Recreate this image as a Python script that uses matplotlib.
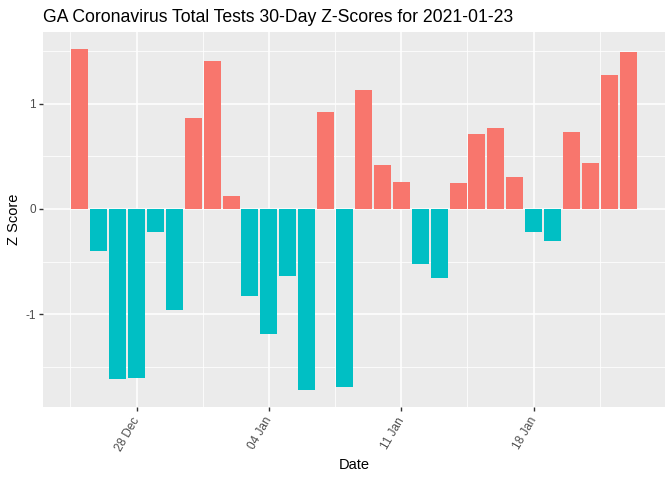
import matplotlib
matplotlib.use("Agg")
import matplotlib.pyplot as plt
import matplotlib.dates as mdates
import numpy as np
import pandas as pd

plt.rcParams["font.family"] = ["Liberation Sans", "DejaVu Sans"]

dates = pd.date_range("2020-12-25", "2021-01-23", freq="D")
zscores = [1.52, -0.40, -1.62, -1.61, -0.22, -0.96, 0.86, 1.41, 0.12, -0.83,
           -1.19, -0.64, -1.72, 0.92, -1.69, 1.13, 0.42, 0.26, -0.52, -0.66,
           0.25, 0.71, 0.77, 0.30, -0.22, -0.30, 0.73, 0.44, 1.27, 1.49]
major_ticks = pd.to_datetime(["2020-12-28", "2021-01-04", "2021-01-11", "2021-01-18"])
major_labels = ["28 Dec", "04 Jan", "11 Jan", "18 Jan"]
minor_ticks = pd.to_datetime(["2020-12-24 12:00", "2020-12-31 12:00", "2021-01-07 12:00",
                              "2021-01-14 12:00", "2021-01-21 12:00"])

pos_col = "#F8766D"
neg_col = "#00BFC4"

fig = plt.figure(figsize=(6.72, 4.8), dpi=100)
W, H = 672, 480
L, R, T, B = 43, 665, 32, 407
ax = fig.add_axes([L / W, 1 - B / H, (R - L) / W, (B - T) / H])
ax.set_facecolor("#EBEBEB")

x = mdates.date2num(dates)
z = np.array(zscores)
colors = [pos_col if v > 0 else neg_col for v in z]
ax.bar(x, z, width=0.9, color=colors, zorder=3)

xmin = x.min() - 0.45
xmax = x.max() + 0.45
xr = xmax - xmin
ax.set_xlim(xmin - 0.05 * xr, xmax + 0.05 * xr)
ymin, ymax = min(z.min(), 0), max(z.max(), 0)
yr = ymax - ymin
ax.set_ylim(ymin - 0.05 * yr, ymax + 0.05 * yr)

ax.set_xticks(mdates.date2num(major_ticks))
ax.set_xticklabels(major_labels)
ax.set_xticks(mdates.date2num(minor_ticks), minor=True)
ax.set_yticks([-1, 0, 1])
ax.set_yticklabels(["-1", "0", "1"])
ax.set_yticks([-1.5, -0.5, 0.5, 1.5], minor=True)

ax.grid(True, which="major", color="white", linewidth=1.1, zorder=0)
ax.grid(True, which="minor", color="white", linewidth=0.55, zorder=0)
ax.set_axisbelow(True)
for s in ax.spines.values():
    s.set_visible(False)

ax.tick_params(which="major", length=3, color="#333333", width=1, labelsize=8.45,
               labelcolor="#4D4D4D")
ax.tick_params(which="minor", length=0)
ax.tick_params(axis="y", pad=2)
ax.tick_params(axis="x", pad=5)
for lbl in ax.get_xticklabels():
    lbl.set_rotation(60)
    lbl.set_ha("right")
    lbl.set_va("center")
    lbl.set_rotation_mode("anchor")

fig.text((L + R) / 2 / W, 1 - 465 / H, "Date", fontsize=10.56, ha="center", va="center")
fig.text(14 / W, 1 - ((T + B) / 2) / H, "Z Score", fontsize=10.56, ha="center", va="center",
         rotation=90)
fig.text(L / W, 1 - 22 / H, "GA Coronavirus Total Tests 30-Day Z-Scores for 2021-01-23",
         fontsize=12.7, ha="left", va="baseline")

fig.savefig("out.png", dpi=100)
